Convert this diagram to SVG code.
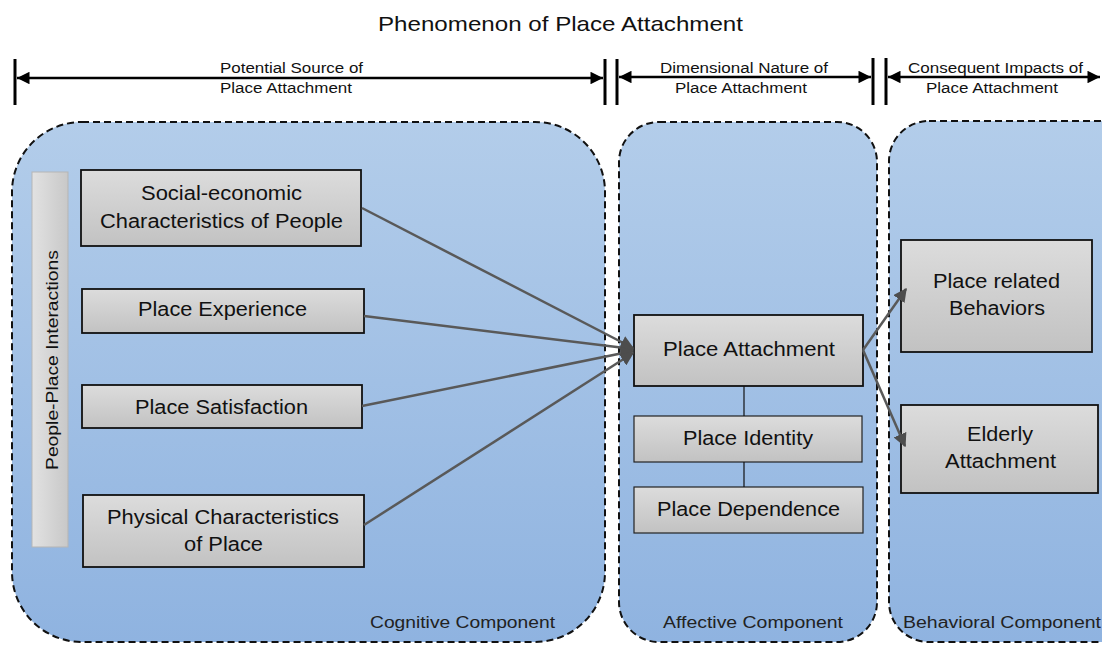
<svg xmlns="http://www.w3.org/2000/svg" width="1102" height="645" viewBox="0 0 1102 645">
  <defs>
    <linearGradient id="blueFill" x1="0" y1="0" x2="0" y2="1">
      <stop offset="0" stop-color="#b3cdea"/>
      <stop offset="1" stop-color="#8fb3e0"/>
    </linearGradient>
    <linearGradient id="grayFill" x1="0" y1="0" x2="0" y2="1">
      <stop offset="0" stop-color="#dcdcdc"/>
      <stop offset="1" stop-color="#c2c2c2"/>
    </linearGradient>
    <linearGradient id="barFill" x1="0" y1="0" x2="1" y2="0">
      <stop offset="0" stop-color="#e2e2e2"/>
      <stop offset="1" stop-color="#c8c8c8"/>
    </linearGradient>
    <marker id="head" viewBox="0 0 10 10" refX="9" refY="5" markerWidth="5.5" markerHeight="5.5" orient="auto" markerUnits="strokeWidth">
      <path d="M0,0 L10,5 L0,10 z" fill="#4d4d4d"/>
    </marker>
    <marker id="dimHead" viewBox="0 0 10 10" refX="10" refY="5" markerWidth="7" markerHeight="5" orient="auto-start-reverse" markerUnits="strokeWidth">
      <path d="M0,0 L10,5 L0,10 z" fill="#000"/>
    </marker>
  </defs>
  <style>
    text { font-family: "Liberation Sans", Arial, sans-serif; fill: #111; }
    .title { font-size: 21px; }
    .dim { font-size: 14px; }
    .lbl { font-size: 20px; }
    .comp { font-size: 16px; fill: #222; }
    .zone { fill: url(#blueFill); stroke: #111; stroke-width: 2; stroke-dasharray: 7 4; }
    .box { fill: url(#grayFill); stroke: #111; stroke-width: 1.8; }
    .thin { fill: url(#grayFill); stroke: #222; stroke-width: 1.2; }
    .bar { stroke: #000; stroke-width: 3; }
    .dimline { stroke: #000; stroke-width: 2.5; fill: none; }
    .conn { stroke: #595959; stroke-width: 2.5; fill: none; marker-end: url(#head); }
    .link { stroke: #111; stroke-width: 1.2; }
  </style>

  <rect width="1102" height="645" fill="#ffffff"/>

  <text class="title" x="378" y="31" textLength="365" lengthAdjust="spacingAndGlyphs">Phenomenon of Place Attachment</text>

  <!-- dimension bars across the top -->
  <g id="dimensions">
    <line class="bar" x1="15" y1="59" x2="15" y2="105"/>
    <line class="bar" x1="605" y1="59" x2="605" y2="105"/>
    <line class="bar" x1="617" y1="59" x2="617" y2="105"/>
    <line class="bar" x1="873" y1="58" x2="873" y2="105"/>
    <line class="bar" x1="886" y1="58" x2="886" y2="105"/>
    <line class="dimline" x1="17" y1="78" x2="603" y2="78" marker-start="url(#dimHead)" marker-end="url(#dimHead)"/>
    <line class="dimline" x1="619" y1="77" x2="871" y2="77" marker-start="url(#dimHead)" marker-end="url(#dimHead)"/>
    <line class="dimline" x1="888" y1="77" x2="1100" y2="77" marker-start="url(#dimHead)" marker-end="url(#dimHead)"/>
    <text class="dim" x="220" y="73" textLength="143" lengthAdjust="spacingAndGlyphs">Potential Source of</text>
    <text class="dim" x="220" y="93" textLength="132" lengthAdjust="spacingAndGlyphs">Place Attachment</text>
    <text class="dim" x="660" y="73" textLength="168" lengthAdjust="spacingAndGlyphs">Dimensional Nature of</text>
    <text class="dim" x="675" y="93" textLength="132" lengthAdjust="spacingAndGlyphs">Place Attachment</text>
    <text class="dim" x="908" y="73" textLength="175" lengthAdjust="spacingAndGlyphs">Consequent Impacts of</text>
    <text class="dim" x="926" y="93" textLength="132" lengthAdjust="spacingAndGlyphs">Place Attachment</text>
  </g>

  <!-- component zones -->
  <g id="cognitive">
    <rect class="zone" x="12" y="122" width="593" height="520" rx="70" ry="70"/>
    <text class="comp" x="370" y="628" textLength="185" lengthAdjust="spacingAndGlyphs">Cognitive Component</text>
  </g>
  <g id="affective">
    <rect class="zone" x="619" y="122" width="258" height="520" rx="40" ry="40"/>
    <text class="comp" x="663" y="628" textLength="180" lengthAdjust="spacingAndGlyphs">Affective Component</text>
  </g>
  <g id="behavioral">
    <rect class="zone" x="889" y="121" width="250" height="521" rx="40" ry="40"/>
    <text class="comp" x="903" y="628" textLength="198" lengthAdjust="spacingAndGlyphs">Behavioral Component</text>
  </g>

  <!-- source nodes -->
  <g id="people-place">
    <rect x="32" y="172" width="36" height="375" fill="url(#barFill)" stroke="#b5b5b5" stroke-width="1"/>
    <text x="-470" y="58" font-size="16" textLength="220" lengthAdjust="spacingAndGlyphs" transform="rotate(-90)">People-Place Interactions</text>
  </g>
  <g id="socio-economic">
    <rect class="box" x="81" y="170" width="280" height="76"/>
    <text class="lbl" x="141" y="200" textLength="161" lengthAdjust="spacingAndGlyphs">Social-economic</text>
    <text class="lbl" x="100" y="228" textLength="243" lengthAdjust="spacingAndGlyphs">Characteristics of People</text>
  </g>
  <g id="place-experience">
    <rect class="box" x="82" y="289" width="282" height="44"/>
    <text class="lbl" x="138" y="316" textLength="169" lengthAdjust="spacingAndGlyphs">Place Experience</text>
  </g>
  <g id="place-satisfaction">
    <rect class="box" x="82" y="385" width="280" height="43"/>
    <text class="lbl" x="135" y="414" textLength="173" lengthAdjust="spacingAndGlyphs">Place Satisfaction</text>
  </g>
  <g id="physical">
    <rect class="box" x="83" y="495" width="281" height="72"/>
    <text class="lbl" x="107" y="524" textLength="232" lengthAdjust="spacingAndGlyphs">Physical Characteristics</text>
    <text class="lbl" x="184" y="551" textLength="79" lengthAdjust="spacingAndGlyphs">of Place</text>
  </g>

  <!-- dimension nodes -->
  <g id="place-attachment">
    <rect class="box" x="634" y="315" width="229" height="71" stroke-width="2.4"/>
    <text class="lbl" x="663" y="356" textLength="172" lengthAdjust="spacingAndGlyphs">Place Attachment</text>
  </g>
  <g id="place-identity">
    <rect class="thin" x="634" y="416" width="228" height="46"/>
    <text class="lbl" x="683" y="445" textLength="130" lengthAdjust="spacingAndGlyphs">Place Identity</text>
  </g>
  <g id="place-dependence">
    <rect class="thin" x="634" y="487" width="229" height="46"/>
    <text class="lbl" x="657" y="516" textLength="183" lengthAdjust="spacingAndGlyphs">Place Dependence</text>
  </g>

  <!-- impact nodes -->
  <g id="place-behaviors">
    <rect class="box" x="901" y="240" width="191" height="112"/>
    <text class="lbl" x="933" y="288" textLength="127" lengthAdjust="spacingAndGlyphs">Place related</text>
    <text class="lbl" x="949" y="315" textLength="96" lengthAdjust="spacingAndGlyphs">Behaviors</text>
  </g>
  <g id="elderly">
    <rect class="box" x="901" y="405" width="197" height="88"/>
    <text class="lbl" x="967" y="441" textLength="66" lengthAdjust="spacingAndGlyphs">Elderly</text>
    <text class="lbl" x="945" y="468" textLength="111" lengthAdjust="spacingAndGlyphs">Attachment</text>
  </g>

  <!-- connectors -->
  <g id="connectors">
    <line class="conn" x1="362" y1="208" x2="633" y2="348"/>
    <line class="conn" x1="364" y1="316" x2="633" y2="349"/>
    <line class="conn" x1="362" y1="406" x2="633" y2="351"/>
    <line class="conn" x1="364" y1="525" x2="633" y2="353"/>
    <line class="conn" x1="863" y1="350" x2="906" y2="289"/>
    <line class="conn" x1="863" y1="350" x2="905" y2="446"/>
    <line class="link" x1="744" y1="386" x2="744" y2="416"/>
    <line class="link" x1="744" y1="462" x2="744" y2="487"/>
  </g>
</svg>
